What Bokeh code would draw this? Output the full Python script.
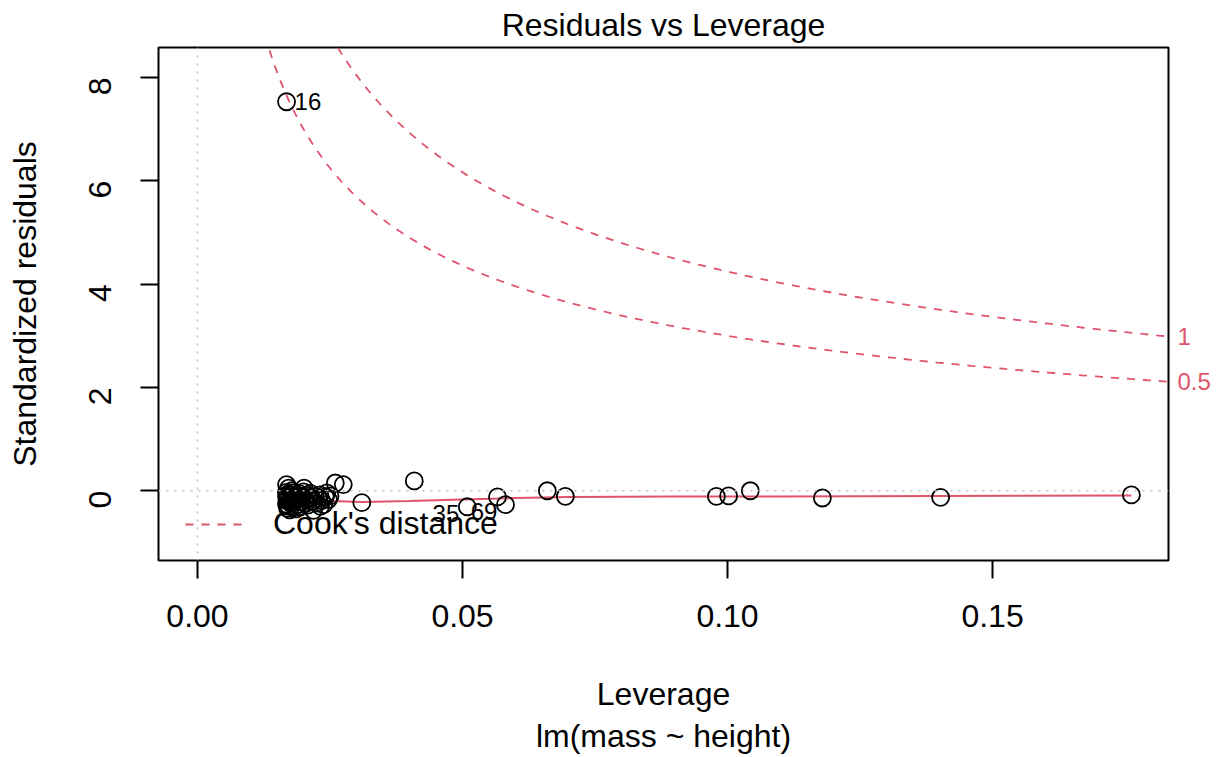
import numpy as np
from bokeh.plotting import figure
from bokeh.models import (Range1d, FixedTicker, Span, Title, ColumnDataSource,
                          LinearAxis)
from bokeh.embed import file_html
from bokeh.resources import INLINE
from bokeh.core.properties import value
import math

# ---------------- data ----------------
leverage = [
    0.0168, 0.0172, 0.0168, 0.0170, 0.0168, 0.0171, 0.0169, 0.0173, 0.0168, 0.0172,
    0.0170, 0.0174, 0.0176, 0.0178, 0.0177, 0.0168, 0.0180, 0.0182, 0.0183, 0.0185,
    0.0187, 0.0189, 0.0191, 0.0193, 0.0196, 0.0198, 0.0201, 0.0203, 0.0206, 0.0208,
    0.0211, 0.0213, 0.0216, 0.0219, 0.0509, 0.0222, 0.0409, 0.0225, 0.0228, 0.1043,
    0.0231, 0.0234, 0.0310, 0.0238, 0.0241, 0.0979, 0.0244, 0.0247, 0.0260, 0.0250,
    0.0178, 0.1762, 0.0186, 0.0194, 0.0275, 0.0200, 0.0215, 0.0566, 0.0175, 0.1402,
    0.0183, 0.0660, 0.0205, 0.1179, 0.0232, 0.0694, 0.0190, 0.1002, 0.0581, 0.0170,
]
std_resid = [
    0.12, 0.05, -0.03, -0.07, -0.11, -0.14, -0.18, -0.22, -0.26, -0.30,
    -0.34, -0.37, -0.09, -0.16, -0.25, 7.53, -0.04, -0.20, -0.31, -0.12,
    -0.08, -0.27, -0.15, -0.06, -0.22, -0.12, 0.05, -0.17, -0.09, -0.28,
    -0.13, -0.05, -0.20, -0.38, -0.31, -0.11, 0.19, -0.24, -0.15, 0.00,
    -0.08, -0.19, -0.23, -0.27, -0.12, -0.11, -0.04, -0.17, 0.15, -0.10,
    0.00, -0.08, -0.35, -0.31, 0.12, -0.02, -0.14, -0.12, -0.20, -0.13,
    -0.14, 0.00, -0.24, -0.14, -0.30, -0.11, -0.10, -0.10, -0.27, -0.15,
]
labelled_obs = [16, 35, 69]

smooth_leverage = [0.0168, 0.0200, 0.0250, 0.0310, 0.0400, 0.0500, 0.0600,
                   0.0700, 0.0900, 0.1100, 0.1400, 0.1762]
smooth_resid = [-0.14, -0.16, -0.20, -0.22, -0.20, -0.17, -0.14,
                -0.12, -0.11, -0.11, -0.10, -0.09]

cook_levels = [0.5, 1.0]
cook_level_labels = ["0.5", "1"]
n_params = 2

x_ticks = [0.00, 0.05, 0.10, 0.15]
x_tick_labels = ["0.00", "0.05", "0.10", "0.15"]
y_ticks = [0, 2, 4, 6, 8]
y_tick_labels = ["0", "2", "4", "6", "8"]

x_min, x_max = -0.00736, 0.1832
y_min, y_max = -1.35, 8.58

FONT = "Liberation Sans"
RED = "#DF536B"

# ---------------- figure ----------------
p = figure(width=1220, height=757, output_backend="svg", toolbar_location=None,
           x_range=Range1d(x_min, x_max), y_range=Range1d(y_min, y_max),
           min_border_left=158, min_border_right=52, min_border_top=46,
           min_border_bottom=197, background_fill_color="white",
           border_fill_color="white")

p.title.text = "Residuals vs Leverage"
p.title.align = "center"
p.title.text_font = FONT
p.title.text_font_size = "32px"
p.title.text_font_style = "normal"
p.title.text_color = "black"
p.title.standoff = 9

p.xgrid.visible = False
p.ygrid.visible = False
p.outline_line_color = "black"
p.outline_line_width = 2

for ax in (p.xaxis[0], p.yaxis[0]):
    ax.axis_line_color = None
    ax.major_tick_out = 18
    ax.major_tick_in = 0
    ax.minor_tick_out = 0
    ax.minor_tick_in = 0
    ax.major_tick_line_width = 2
    ax.major_tick_line_color = "black"
    ax.major_label_text_font = FONT
    ax.major_label_text_font_size = "32px"
    ax.major_label_text_color = "black"
    ax.axis_label_text_font = FONT
    ax.axis_label_text_font_size = "32px"
    ax.axis_label_text_font_style = "normal"
    ax.axis_label_text_color = "black"

p.xaxis.ticker = FixedTicker(ticks=x_ticks)
p.xaxis.major_label_overrides = {t: s for t, s in zip(x_ticks, x_tick_labels)}
p.xaxis.major_label_standoff = 26
p.xaxis.axis_label = "Leverage"
p.xaxis.axis_label_standoff = 46

p.yaxis.ticker = FixedTicker(ticks=y_ticks)
p.yaxis.major_label_overrides = {t: s for t, s in zip(y_ticks, y_tick_labels)}
p.yaxis.major_label_orientation = math.pi / 2
p.yaxis.major_label_standoff = 40
p.yaxis.axis_label = "Standardized residuals"
p.yaxis.axis_label_standoff = 33

p.add_layout(Title(text="lm(mass ~ height)", align="center", text_font=FONT,
                   text_font_size="32px", text_font_style="normal",
                   text_color="black", standoff=3), "below")

# reference lines
p.add_layout(Span(location=0, dimension="height", line_color="#BEBEBE",
                  line_dash="2 6", line_width=1.5))
p.add_layout(Span(location=0, dimension="width", line_color="#BEBEBE",
                  line_dash="2 6", line_width=1.5))

# Cook's distance contours
hh = np.linspace(0.0017, x_max, 201)
end_vals = []
for i, lvl in enumerate(cook_levels):
    rr = np.sqrt(lvl * n_params * (1 - hh) / hh)
    kw = dict(legend_label="Cook's distance") if i == 0 else {}
    p.line(hh, rr, line_color=RED, line_dash="8 8", line_width=1.8, **kw)
    p.line(hh, -rr, line_color=RED, line_dash="8 8", line_width=1.8)
    end_vals.append(math.sqrt(lvl * n_params * (1 - x_max) / x_max))

# contour level labels in the right margin (as a right-hand axis)
right_ax = LinearAxis(ticker=FixedTicker(ticks=end_vals),
                      major_label_overrides={v: s for v, s in zip(end_vals, cook_level_labels)})
right_ax.axis_line_color = None
right_ax.major_tick_out = 0
right_ax.major_tick_in = 0
right_ax.minor_tick_out = 0
right_ax.minor_tick_in = 0
right_ax.major_label_standoff = 9
right_ax.major_label_text_font = FONT
right_ax.major_label_text_font_size = "24px"
right_ax.major_label_text_color = RED
p.add_layout(right_ax, "right")

# smoother
p.line(smooth_leverage, smooth_resid, line_color=RED, line_width=2)

# points
p.scatter(leverage, std_resid, marker="circle", size=17, fill_color=None,
          line_color="black", line_width=1.8)

# labels for the most influential observations
lab_x = [leverage[i - 1] for i in labelled_obs]
lab_y = [std_resid[i - 1] for i in labelled_obs]
mid = (min(lab_x) + max(lab_x)) / 2
src = ColumnDataSource(dict(
    x=lab_x, y=lab_y, text=[str(i) for i in labelled_obs],
    align=["left" if x <= mid else "right" for x in lab_x],
    xo=[8 if x <= mid else -8 for x in lab_x],
    yo=[7 if y < 0 else 0 for y in lab_y],
))
p.text(x="x", y="y", text="text", source=src, text_align="align",
       x_offset="xo", y_offset="yo", text_baseline="middle",
       text_font=value(FONT), text_font_size="24px", text_color="black")

# legend
leg = p.legend[0]
leg.location = (27, 18)
leg.border_line_color = None
leg.background_fill_alpha = 0
leg.label_text_font = FONT
leg.label_text_font_size = "32px"
leg.label_text_color = "black"
leg.glyph_width = 58
leg.label_standoff = 30
leg.margin = 0
leg.padding = 0

open("out.html", "w").write(file_html(p, INLINE))
